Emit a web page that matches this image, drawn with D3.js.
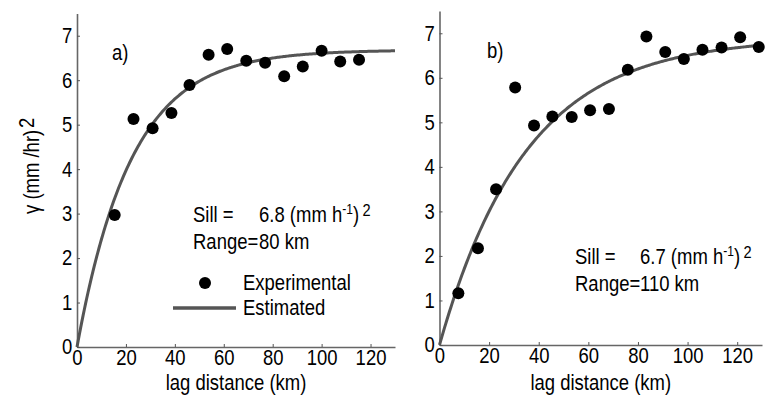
<!DOCTYPE html>
<html>
<head>
<meta charset="utf-8">
<script src="https://cdn.jsdelivr.net/npm/d3@7"></script>
<style>
  body { margin: 0; background: #fff; }
  svg { display: block; font-family: "Liberation Sans", Arial, sans-serif; }
</style>
</head>
<body>
<div id="wrap"></div>
<script>
// panel a) experimental semivariogram
const lagA = [15.4, 23.1, 30.9, 38.6, 46.0, 53.8, 61.4, 69.2, 76.9, 84.7, 92.3, 100.0, 107.6, 115.3];
const gammaA = [2.97, 5.13, 4.92, 5.26, 5.89, 6.57, 6.70, 6.44, 6.39, 6.09, 6.31, 6.66, 6.42, 6.46];
// panel b)
const lagB = [7.6, 15.5, 22.8, 30.5, 38.1, 45.5, 53.3, 60.7, 68.3, 75.9, 83.4, 91.0, 98.5, 106.0, 113.7, 121.2, 128.7];
const gammaB = [1.16, 2.17, 3.50, 5.78, 4.93, 5.13, 5.12, 5.27, 5.30, 6.18, 6.93, 6.58, 6.42, 6.63, 6.68, 6.91, 6.69];

// fitted exponential model (partial sill, length parameter) as drawn
const modelA = [6.68, 22.2];
const modelB = [6.9, 35];

const xTicks = [0, 20, 40, 60, 80, 100, 120];
const yTicks = [0, 1, 2, 3, 4, 5, 6, 7];
const sillText = ["6.8", "6.7"];
const rangeText = ["80 km", "110 km"];
const panelLabels = ["a)", "b)"];

const W = 765, H = 396;
const SX = 0.86; // glyphs in the picture are a bit narrow
const FS = 21.5;

const svg = d3.select('#wrap').append('svg')
  .attr('width', W).attr('height', H);

function txt(g, x, y, s, size, anchor) {
  return g.append('text')
    .attr('transform', 'translate(' + x + ',' + y + ') scale(' + SX + ',1)')
    .attr('font-size', size || FS)
    .attr('text-anchor', anchor || 'start')
    .attr('fill', '#000')
    .text(s);
}

function panel(opt) {
  const g = svg.append('g');
  const x = d3.scaleLinear().domain([0, 130]).range(opt.xr);
  const y = d3.scaleLinear().domain([0, 7.5]).range(opt.yr);

  // axes
  const xa = g.append('g')
    .attr('transform', 'translate(0,' + opt.yr[0] + ')')
    .call(d3.axisBottom(x).tickValues(xTicks).tickSizeInner(-3).tickSizeOuter(0).tickPadding(3));
  const ya = g.append('g')
    .attr('transform', 'translate(' + opt.xr[0] + ',0)')
    .call(d3.axisLeft(y).tickValues(yTicks).tickSizeInner(-3).tickSizeOuter(0).tickPadding(5.5));
  [xa, ya].forEach(a => {
    a.select('.domain').attr('stroke', '#666').attr('stroke-width', 1.6);
    a.selectAll('.tick line').attr('stroke', '#555').attr('stroke-width', 1);
    a.selectAll('.tick text')
      .attr('font-size', FS)
      .attr('font-family', '"Liberation Sans", Arial, sans-serif')
      .attr('fill', '#000')
      .attr('transform', 'scale(' + SX + ',1)');
  });

  // model curve
  const hs = d3.range(0, 130.01, 0.5);
  const line = d3.line()
    .x(h => x(h))
    .y(h => y(opt.model[0] * (1 - Math.exp(-h / opt.model[1]))));
  g.append('path')
    .attr('d', line(hs))
    .attr('fill', 'none')
    .attr('stroke', '#555')
    .attr('stroke-width', 3);

  // experimental points
  g.selectAll('circle.pt')
    .data(opt.lag)
    .enter()
    .append('circle')
    .attr('class', 'pt')
    .attr('cx', d => x(d))
    .attr('cy', (d, i) => y(opt.gamma[i]))
    .attr('r', 6)
    .attr('fill', '#000');

  // texts
  txt(g, opt.lbl[0], opt.lbl[1], opt.label);
  txt(g, (opt.xr[0] + opt.xr[1]) / 2, 390, 'lag distance (km)', FS, 'middle');

  const s = opt.sill;
  txt(g, s[0], s[1], 'Sill =');
  const t = txt(g, s[2], s[1], '');
  t.append('tspan').text(opt.sillVal + ' (mm h');
  t.append('tspan').attr('dy', -8).attr('font-size', 14).text('-1');
  t.append('tspan').attr('dy', 8).text(')');
  t.append('tspan').attr('dy', -6).attr('dx', 4).attr('font-size', 17).text('2');
  txt(g, s[0], s[1] + 27, 'Range=');
  txt(g, s[2], s[1] + 27, opt.rangeVal);
  return { g, x, y };
}

const pa = panel({
  xr: [77, 395], yr: [347, 13.5],
  lag: lagA, gamma: gammaA, model: modelA,
  label: panelLabels[0], lbl: [112, 60],
  sill: [193, 222, 259], sillVal: sillText[0], rangeVal: rangeText[0]
});
const pb = panel({
  xr: [439.5, 762], yr: [345, 11],
  lag: lagB, gamma: gammaB, model: modelB,
  label: panelLabels[1], lbl: [487, 58],
  sill: [575, 264, 640], sillVal: sillText[1], rangeVal: rangeText[1]
});

// legend (panel a)
const lg = pa.g.append('g');
lg.append('circle').attr('cx', 205).attr('cy', 283).attr('r', 6).attr('fill', '#000');
txt(lg, 243, 290, 'Experimental');
lg.append('line')
  .attr('x1', 173).attr('x2', 236).attr('y1', 308).attr('y2', 308)
  .attr('stroke', '#555').attr('stroke-width', 3.5);
txt(lg, 243, 315, 'Estimated');

// y axis title
const yt = svg.append('text')
  .attr('transform', 'translate(39,214) rotate(-90) scale(' + SX + ',1)')
  .attr('font-size', FS)
  .attr('fill', '#000');
yt.append('tspan').text('γ (mm /hr)');
yt.append('tspan').attr('dy', -5).attr('dx', 2).text('2');
</script>
</body>
</html>
